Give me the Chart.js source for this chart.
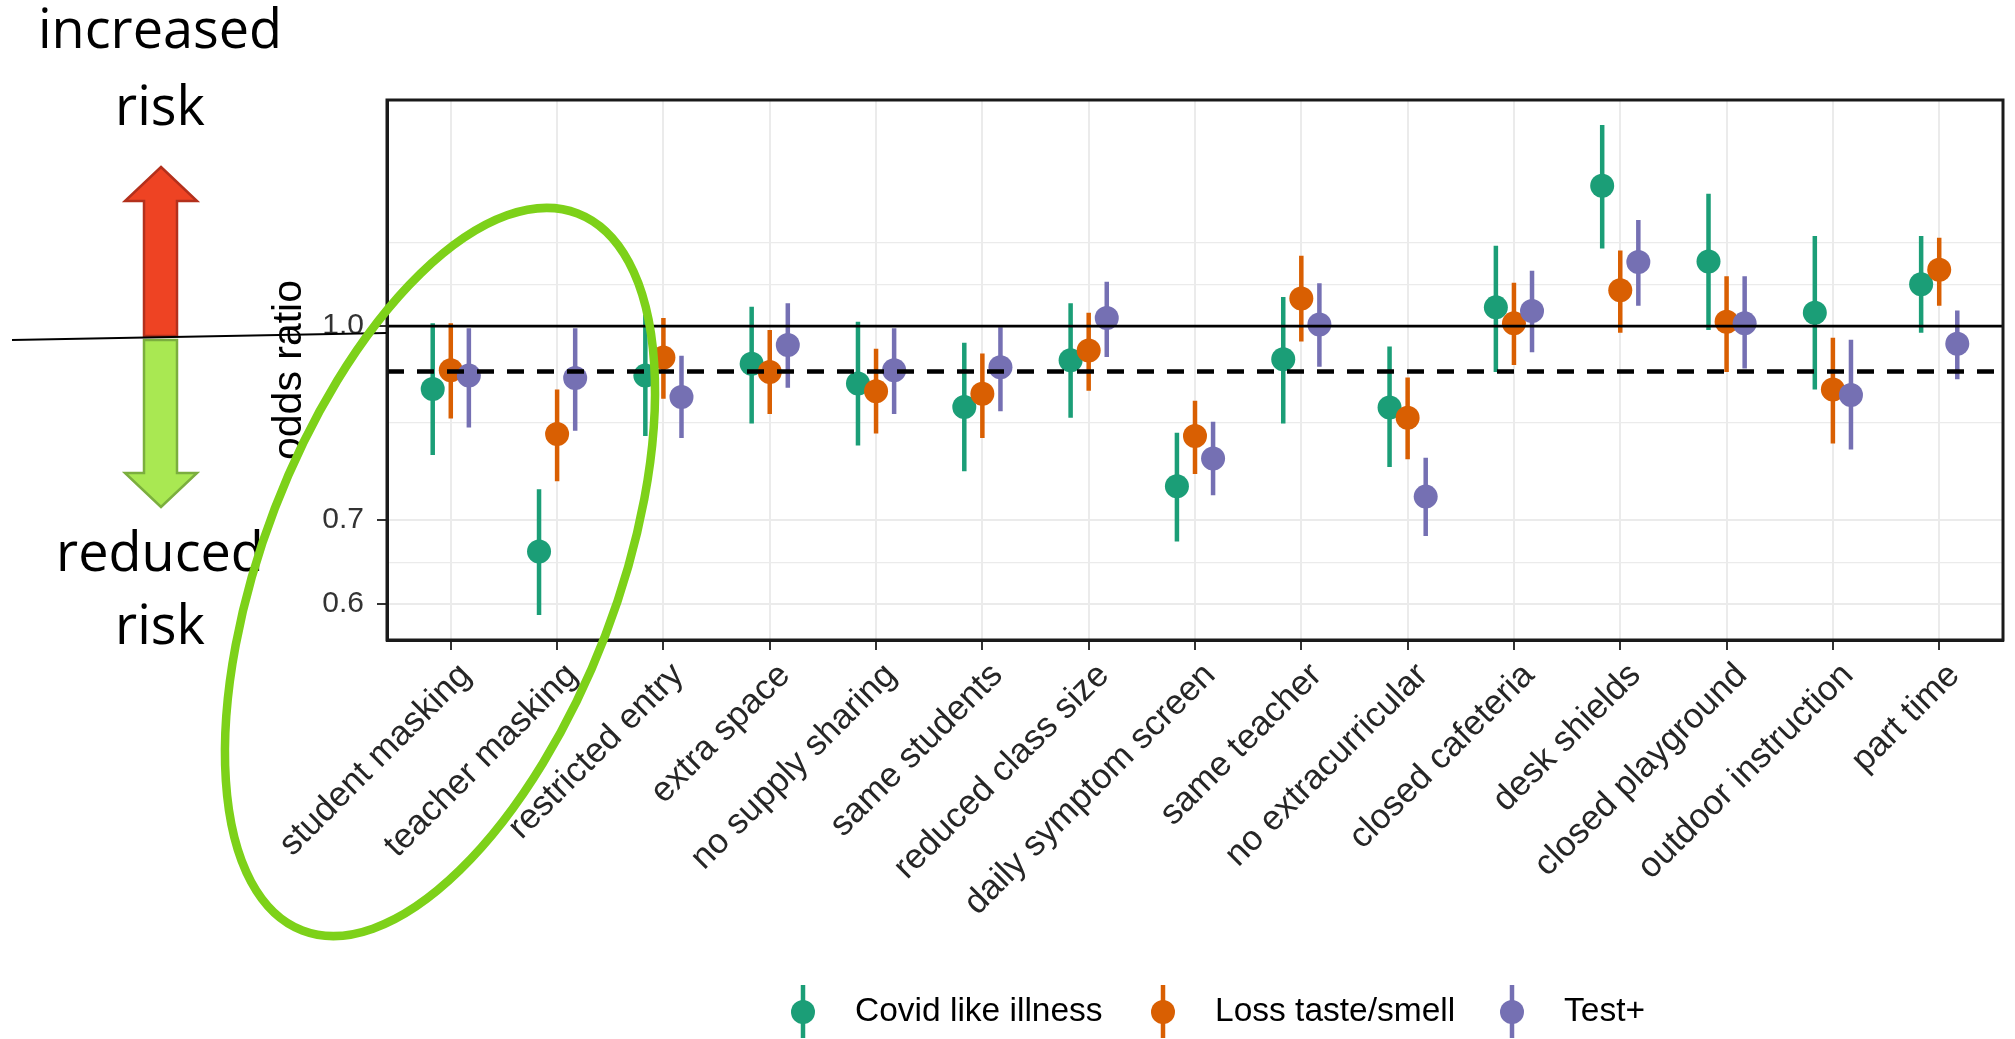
<!DOCTYPE html>
<html><head><meta charset="utf-8">
<script src="https://cdn.jsdelivr.net/npm/chart.js@4.4.1/dist/chart.umd.min.js"></script>
<style>html,body{margin:0;padding:0;background:#fff;overflow:hidden}canvas{display:block}</style>
</head><body>
<canvas id="c" width="2015" height="1039"></canvas>
<script>
// ---- data ----
const categories = ["student masking","teacher masking","restricted entry","extra space","no supply sharing","same students","reduced class size","daily symptom screen","same teacher","no extracurricular","closed cafeteria","desk shields","closed playground","outdoor instruction","part time"];
const seriesNames = ["Covid like illness","Loss taste/smell","Test+"];
const seriesColors = ["#1B9E77","#D95F02","#7570B3"];

const covidEst = [0.891,0.661,0.913,0.933,0.900,0.862,0.939,0.745,0.941,0.861,1.035,1.294,1.126,1.025,1.080];
const covidLo  = [0.789,0.588,0.817,0.836,0.803,0.766,0.845,0.673,0.836,0.772,0.919,1.153,0.993,0.890,0.988];
const covidHi  = [1.005,0.741,1.021,1.036,1.008,0.970,1.043,0.822,1.055,0.963,1.159,1.447,1.275,1.180,1.180];

const lossEst = [0.922,0.820,0.944,0.919,0.887,0.883,0.956,0.817,1.052,0.845,1.005,1.068,1.008,0.890,1.109];
const lossLo  = [0.844,0.752,0.875,0.851,0.821,0.814,0.888,0.762,0.972,0.783,0.931,0.988,0.919,0.806,1.038];
const lossHi  = [1.005,0.890,1.015,0.993,0.959,0.951,1.025,0.872,1.138,0.910,1.083,1.149,1.096,0.979,1.176];

const testEst = [0.913,0.909,0.878,0.966,0.922,0.927,1.015,0.784,1.003,0.731,1.028,1.125,1.005,0.881,0.968];
const testLo  = [0.830,0.825,0.814,0.893,0.851,0.855,0.945,0.733,0.928,0.680,0.953,1.038,0.925,0.797,0.907];
const testHi  = [0.996,0.996,0.947,1.043,0.996,0.998,1.085,0.839,1.082,0.785,1.107,1.215,1.096,0.975,1.029];

const yTickLabels = ["0.6","0.7","1.0"];
const yTickValues = [0.6,0.7,1.0];
const yMinorGrid = [0.648,0.837,1.08,1.166];
const refSolid = 1.0;
const refDashed = 0.92;
const yTitle = "odds ratio";
const sideTop = ["increased","risk"];
const sideBottom = ["reduced","risk"];

// ---- build datasets ----
const dodge = [-0.17, 0, 0.17];
const est = [covidEst, lossEst, testEst];
const lo = [covidLo, lossLo, testLo];
const hi = [covidHi, lossHi, testHi];
const X0 = 0.4, X1 = categories.length + 0.6;

const datasets = [];
datasets.push({type:'line', data:[{x:X0,y:refSolid},{x:X1,y:refSolid}], borderColor:'#000', borderWidth:2.6, pointRadius:0, order:0});
datasets.push({type:'line', data:[{x:X0,y:refDashed},{x:X1,y:refDashed}], borderColor:'#000', borderWidth:4.5, borderDash:[17,13], pointRadius:0, order:0});
for (let s = 0; s < 3; s++) {
  const bars = [];
  categories.forEach((c,i) => {
    const x = i + 1 + dodge[s];
    bars.push({x, y: lo[s][i]}, {x, y: hi[s][i]}, {x, y: null});
  });
  datasets.push({type:'line', data:bars, borderColor:seriesColors[s], borderWidth:4.5, pointRadius:0, spanGaps:false, order: 6 - 2*s});
  datasets.push({type:'scatter', data: categories.map((c,i)=>({x:i+1+dodge[s], y:est[s][i]})), backgroundColor:seriesColors[s], borderWidth:0, pointRadius:12, pointHoverRadius:12, order: 5 - 2*s});
}

const overlay = {
  id:'overlay',
  afterDraw(chart){
    const ctx = chart.ctx, a = chart.chartArea;
    ctx.save();
    // panel border
    ctx.strokeStyle = '#1a1a1a'; ctx.lineWidth = 3;
    ctx.strokeRect(a.left, a.top, a.right - a.left, a.bottom - a.top);
    // y title
    ctx.save();
    ctx.translate(290, (a.top + a.bottom)/2);
    ctx.rotate(-Math.PI/2);
    ctx.fillStyle = '#000'; ctx.font = '41px "Liberation Sans"';
    ctx.textAlign = 'center'; ctx.textBaseline = 'middle';
    ctx.fillText(yTitle, 0, 0);
    ctx.restore();
    // side texts
    ctx.fillStyle = '#000'; ctx.font = '54px "Open Sans"';
    ctx.textAlign = 'center'; ctx.textBaseline = 'middle';
    ctx.fillText(sideTop[0], 160, 33);
    ctx.fillText(sideTop[1], 160, 110);
    ctx.fillText(sideBottom[0], 160, 556);
    ctx.fillText(sideBottom[1], 160, 629);
    // red arrow up
    ctx.lineWidth = 2.5; ctx.lineJoin = 'miter';
    ctx.beginPath();
    ctx.moveTo(161,167); ctx.lineTo(197,201); ctx.lineTo(177,201); ctx.lineTo(177,336);
    ctx.lineTo(144,336); ctx.lineTo(144,201); ctx.lineTo(125,201); ctx.closePath();
    ctx.fillStyle = '#EE4323'; ctx.fill(); ctx.strokeStyle = '#B3301C'; ctx.stroke();
    // green arrow down
    ctx.beginPath();
    ctx.moveTo(144,340); ctx.lineTo(177,340); ctx.lineTo(177,473); ctx.lineTo(197,473);
    ctx.lineTo(161,507); ctx.lineTo(125,473); ctx.lineTo(144,473); ctx.closePath();
    ctx.fillStyle = '#A9E852'; ctx.fill(); ctx.strokeStyle = '#7BAE3E'; ctx.stroke();
    // thin black line
    ctx.beginPath(); ctx.moveTo(12,340); ctx.lineTo(386,333);
    ctx.strokeStyle = '#000'; ctx.lineWidth = 2; ctx.stroke();
    // legend
    const lx = [803, 1163, 1512], ly = 1012;
    ctx.font = '33.5px "Liberation Sans"'; ctx.textAlign = 'left'; ctx.textBaseline = 'middle';
    for (let s = 0; s < 3; s++) {
      ctx.strokeStyle = seriesColors[s]; ctx.lineWidth = 4.5;
      ctx.beginPath(); ctx.moveTo(lx[s], 985); ctx.lineTo(lx[s], 1038); ctx.stroke();
      ctx.fillStyle = seriesColors[s];
      ctx.beginPath(); ctx.arc(lx[s], ly, 12, 0, Math.PI*2); ctx.fill();
      ctx.fillStyle = '#000';
      ctx.fillText(seriesNames[s], lx[s] + 52, ly);
    }
    // green ellipse
    ctx.beginPath();
    ctx.ellipse(440, 572, 177, 384, 21*Math.PI/180, 0, Math.PI*2);
    ctx.strokeStyle = '#7DD119'; ctx.lineWidth = 8.5; ctx.stroke();
    ctx.restore();
  }
};

new Chart(document.getElementById('c'), {
  data: { datasets },
  options: {
    responsive:false, animation:false, devicePixelRatio:1,
    layout:{ padding:{ left:262, right:10, top:100, bottom:0 } },
    plugins:{ legend:{display:false}, tooltip:{enabled:false} },
    scales:{
      x:{
        type:'linear', min:X0, max:X1,
        afterBuildTicks: s => { s.ticks = categories.map((c,i)=>({value:i+1})); },
        afterFit: s => { s.height = 399; },
        ticks:{ autoSkip:false, minRotation:45, maxRotation:45, padding:5, labelOffset:15,
          callback: v => categories[v-1] ?? '',
          font:{family:'Liberation Sans', size:35}, color:'#262626' },
        grid:{ color:'#EBEBEB', lineWidth:2, drawTicks:true, tickLength:10, tickColor:'#333', tickWidth:2 },
        border:{ display:true, color:'#1a1a1a', width:3 }
      },
      y:{
        type:'logarithmic', min:0.5617, max:1.515,
        afterBuildTicks: s => { s.ticks = yTickValues.concat(yMinorGrid).sort((p,q)=>p-q).map(v=>({value:v})); },
        afterFit: s => { s.width = 125; },
        ticks:{ autoSkip:false, padding:13,
          callback: v => { const k = yTickValues.indexOf(v); return k >= 0 ? yTickLabels[k] : ''; },
          font:{family:'Liberation Sans', size:30}, color:'#333' },
        grid:{ color:'#EBEBEB',
          lineWidth: c => (c.tick && yTickValues.includes(c.tick.value)) ? 2 : 1.2,
          tickColor: c => (c.tick && yTickValues.includes(c.tick.value)) ? '#333' : 'rgba(0,0,0,0)',
          tickLength:10, tickWidth:2 },
        border:{ display:true, color:'#1a1a1a', width:3 }
      }
    }
  },
  plugins:[overlay]
});
</script>
</body></html>
